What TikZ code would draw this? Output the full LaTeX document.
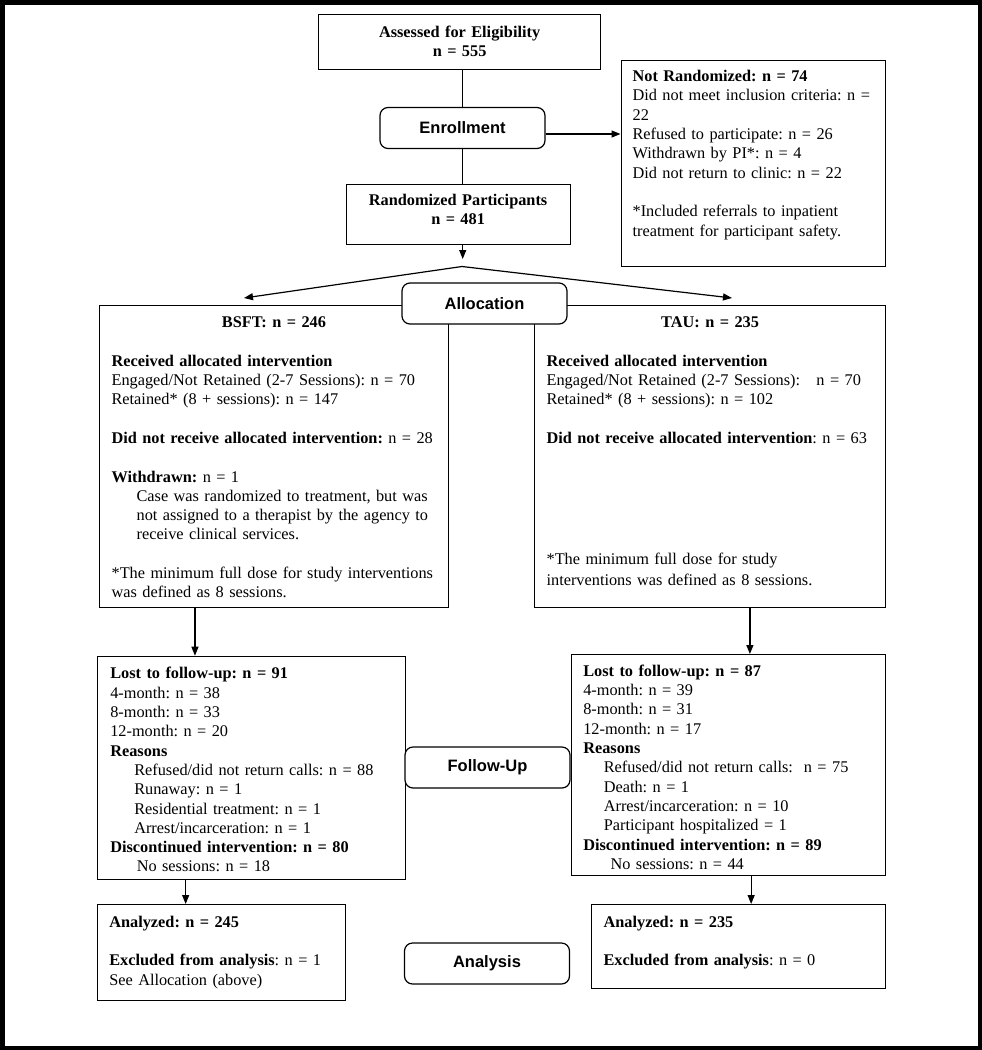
\documentclass[tikz,border=0pt]{standalone}
\usepackage{fontspec}
\setmainfont{Liberation Serif}
\newfontfamily\stagefont{Liberation Sans}
\usetikzlibrary{arrows.meta}
\usetikzlibrary{positioning}

\newcommand{\bodysize}{\fontsize{16.3}{19.3}\selectfont\frenchspacing}

\begin{document}
\begin{tikzpicture}[x=1pt,y=-1pt,line width=1.2pt,
    >={Triangle[length=9pt,width=7pt]},
    box/.style={draw,fill=white,align=left,inner xsep=12pt,inner ysep=0pt,anchor=north west,font=\bodysize},
    titlebox/.style={box,align=center,font=\bodysize\bfseries},
    stage/.style={draw,fill=white,rounded corners=8pt,minimum width=165pt,minimum height=41pt,
        font=\stagefont\fontsize{16.5}{19}\selectfont\bfseries}]

    \useasboundingbox (0,0) rectangle (982,1050);
    \draw[line width=4.5pt] (2.25,2.25) rectangle (979.75,1047.75);

    \node[titlebox,text width=258pt,text height=22.7pt,text depth=32.3pt] (assess) at (318,14)
        {Assessed for Eligibility\\n = 555};
    \node[titlebox,text width=200pt,text height=21.5pt,text depth=38.5pt] (rand) at (345.5,183.5)
        {Randomized Participants\\n = 481};

    \node[box,inner xsep=11.5pt,text width=241.5pt,text height=21pt,text depth=184.5pt] (notrand) at (620.5,60)
        {\textbf{Not Randomized: n = 74}\\
        \mbox{Did not meet inclusion criteria: n =}\\
        22\\
        Refused to participate: n = 26\\
        Withdrawn by PI*: n = 4\\
        Did not return to clinic: n = 22\\[\baselineskip]
        *Included referrals to inpatient\\
        treatment for participant safety.};

    \node[box,text width=324.7pt,text height=22pt,text depth=279.7pt] (bsft) at (99,305)
        {\makebox[\linewidth]{\textbf{BSFT: n = 246}}\\[\baselineskip]
        \textbf{Received allocated intervention}\\
        \mbox{Engaged/Not Retained (2-7 Sessions): n = 70}\\
        Retained* (8 + sessions): n = 147\\[\baselineskip]
        \mbox{\textbf{Did not receive allocated intervention:} n = 28}\\[\baselineskip]
        \textbf{Withdrawn:} n = 1\\
        \hspace*{25pt}\mbox{Case was randomized to treatment, but was}\\
        \hspace*{25pt}\mbox{not assigned to a therapist by the agency to}\\
        \hspace*{25pt}receive clinical services.\\[\baselineskip]
        \mbox{*The minimum full dose for study interventions}\\
        was defined as 8 sessions.};

    \node[box,text width=327pt,text height=22pt,text depth=279.7pt] (tau) at (534,305)
        {\makebox[\linewidth]{\textbf{TAU: n = 235}}\\[\baselineskip]
        \textbf{Received allocated intervention}\\
        Engaged/Not Retained (2-7 Sessions):\ \ \ n = 70\\
        Retained* (8 + sessions): n = 102\\[\baselineskip]
        \textbf{Did not receive allocated intervention}: n = 63\\[102.2pt]
        *The minimum full dose for study\\[1.4pt]
        interventions was defined as 8 sessions.};

    \node[box,inner xsep=13pt,text width=282.3pt,text height=22.6pt,text depth=200.7pt] (bfol) at (96.7,655.7)
        {\textbf{Lost to follow-up: n = 91}\\
        4-month: n = 38\\
        8-month: n = 33\\
        12-month: n = 20\\
        \textbf{Reasons}\\
        \hspace*{24pt}Refused/did not return calls: n = 88\\
        \hspace*{24pt}Runaway: n = 1\\
        \hspace*{24pt}Residential treatment: n = 1\\
        \hspace*{24pt}Arrest/incarceration: n = 1\\
        \textbf{Discontinued intervention: n = 80}\\
        \hspace*{26.5pt}No sessions: n = 18};

    \node[box,text width=290.3pt,text height=21.7pt,text depth=199.3pt] (tfol) at (570.7,654)
        {\textbf{Lost to follow-up: n = 87}\\
        4-month: n = 39\\
        8-month: n = 31\\
        12-month: n = 17\\
        \textbf{Reasons}\\
        \hspace*{20.5pt}Refused/did not return calls:\ \ n = 75\\
        \hspace*{20.5pt}Death: n = 1\\
        \hspace*{20.5pt}Arrest/incarceration: n = 10\\
        \hspace*{20.5pt}Participant hospitalized = 1\\
        \textbf{Discontinued intervention: n = 89}\\
        \hspace*{27.3pt}No sessions: n = 44};

    \node[box,text width=224.3pt,text height=22.7pt,text depth=73.3pt] (bana) at (96.7,904)
        {\textbf{Analyzed: n = 245}\\[\baselineskip]
        \textbf{Excluded from analysis}: n = 1\\
        See Allocation (above)};
    \node[box,text width=270pt,text height=22.7pt,text depth=61.3pt] (tana) at (591,904)
        {\textbf{Analyzed: n = 235}\\[\baselineskip]
        \textbf{Excluded from analysis}: n = 0};

    \foreach \n/\t/\x/\y in {enr/Enrollment/462.5/128,alloc/Allocation/484.5/303.5,
        fol/Follow-Up/487.5/767.5,ana/Analysis/487/963.5}
    {
        \node[stage] (\n) at (\x,\y) {\t};
    }

    \coordinate (randtip) at (462.7,259);
    \coordinate (apex) at (462,266.5);
    \coordinate (bsfttip) at (244,298);
    \coordinate (tautip) at (732,298);
    \coordinate (enrout) at ([yshift=-6pt]enr.east);
    \coordinate (bsftout) at ([xshift=-79pt]bsft.south);
    \coordinate (tauout) at ([xshift=39.8pt]tau.south);
    \coordinate (bfolout) at ([xshift=-65.8pt]bfol.south);
    \coordinate (tfolout) at ([xshift=22.7pt]tfol.south);

    \draw (randtip |- assess.south) -- (randtip |- enr.north);
    \draw (randtip |- enr.south) -- (randtip |- rand.north);
    \draw[->] (enrout) -- (enrout -| notrand.west);
    \draw[->] (randtip |- rand.south) -- (randtip);
    \draw[<->] (bsfttip) -- (apex) -- (tautip);
    \draw[->] (bsftout) -- (bsftout |- bfol.north);
    \draw[->] (tauout) -- (tauout |- tfol.north);
    \draw[->] (bfolout) -- (bfolout |- bana.north);
    \draw[->] (tfolout) -- (tfolout |- tana.north);
\end{tikzpicture}
\end{document}
